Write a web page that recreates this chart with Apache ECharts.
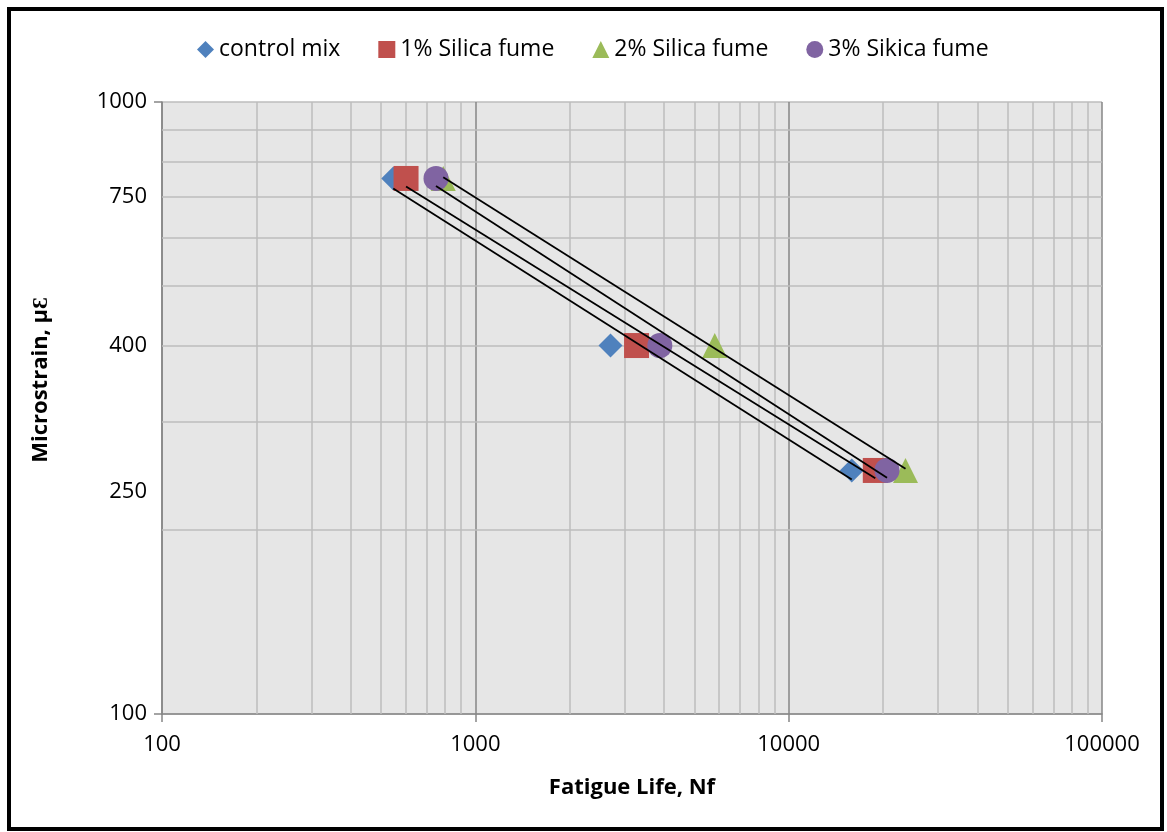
<!DOCTYPE html>
<html>
<head>
<meta charset="utf-8">
<script src="https://cdn.jsdelivr.net/npm/echarts@6/dist/echarts.min.js"></script>
<style>
html,body{margin:0;padding:0;background:#fff;}
#chart{width:1167px;height:832px;}
</style>
</head>
<body>
<div id="chart"></div>
<script>
// ---- data ----
const seriesNames = ['control mix', '1% Silica fume', '2% Silica fume', '3% Sikica fume'];
const strainLevels = [750, 400, 250];          // microstrain
const lifeControl = [547, 2700, 15900];        // fatigue life Nf
const lifeSF1 = [601, 3270, 18900];
const lifeSF2 = [790, 5810, 23600];
const lifeSF3 = [749, 3880, 20600];
const yExtraLabels = ['250', '400', '750'];    // extra y-axis tick texts
const yExtraLabelAt = [231, 400, 700];         // where they appear on the axis

const colors = ['#4F81BD', '#C0504D', '#9BBB59', '#8064A2'];
const symbols = ['diamond', 'rect', 'triangle', 'circle'];
const lives = [lifeControl, lifeSF1, lifeSF2, lifeSF3];

// power trendline (least squares in log-log space), Excel style
function trend(xs, ys) {
  const lx = xs.map(Math.log10), ly = ys.map(Math.log10);
  const n = lx.length;
  const mx = lx.reduce((a, b) => a + b, 0) / n, my = ly.reduce((a, b) => a + b, 0) / n;
  let sxy = 0, sxx = 0;
  for (let i = 0; i < n; i++) { sxy += (lx[i] - mx) * (ly[i] - my); sxx += (lx[i] - mx) ** 2; }
  const b = sxy / sxx, a = my - b * mx;
  const x0 = Math.min(...xs), x1 = Math.max(...xs);
  return [[x0, Math.pow(10, a + b * Math.log10(x0))], [x1, Math.pow(10, a + b * Math.log10(x1))]];
}

// minor gridlines (2..9 of each decade)
const minorX = [], minorY = [];
for (let d = 100; d < 100000; d *= 10) for (let k = 2; k <= 9; k++) minorX.push(k * d);
for (let k = 2; k <= 9; k++) minorY.push(k * 100);

const FONT = 'Open Sans';
const gridLineData = [];
minorX.forEach(v => gridLineData.push({ xAxis: v }));
minorY.forEach(v => gridLineData.push({ yAxis: v }));
yExtraLabels.forEach((t, i) => gridLineData.push({
  yAxis: yExtraLabelAt[i],
  lineStyle: { color: 'rgba(0,0,0,0)', width: 0.1 },
  label: { show: true, formatter: t, position: 'start', distance: 15, fontSize: 22, color: '#000', fontFamily: FONT }
}));

const series = [{
  type: 'line', data: [[100, 100]], showSymbol: false, symbol: 'none', silent: true, z: 1,
  lineStyle: { opacity: 0 }, legendHoverLink: false,
  markLine: {
    silent: true, animation: false, symbol: ['none', 'none'], z: 1,
    label: { show: false },
    lineStyle: { color: '#bdbdbd', width: 1.5, type: 'solid' },
    data: gridLineData
  }
}];

lives.forEach((lv, i) => {
  series.push({
    name: seriesNames[i], type: 'scatter', z: 3 + i,
    symbol: symbols[i], symbolSize: symbols[i] === 'diamond' ? 24 : 25,
    itemStyle: { color: colors[i], opacity: 1 },
    data: lv.map((x, j) => [x, strainLevels[j]])
  });
});
lives.forEach((lv, i) => {
  series.push({
    type: 'line', z: 10, silent: true, symbol: 'none', showSymbol: false,
    lineStyle: { color: '#000', width: 1.8 },
    data: trend(lv, strainLevels)
  });
});

const chart = echarts.init(document.getElementById('chart'), null, { renderer: 'canvas' });
chart.setOption({
  animation: false,
  textStyle: { fontFamily: FONT },
  color: colors,
  graphic: [{
    type: 'rect', z: 100, silent: true,
    shape: { x: 9, y: 9, width: 1153, height: 820 },
    style: { fill: 'none', stroke: '#000', lineWidth: 4 }
  }],
  legend: {
    top: 33, left: 192, itemGap: 38, itemWidth: 17, itemHeight: 17,
    data: seriesNames.map((n, i) => ({ name: n, icon: symbols[i] })),
    textStyle: { fontSize: 23, color: '#000', fontFamily: FONT }
  },
  grid: { left: 162, right: 65, top: 102, bottom: 118, show: true, backgroundColor: '#e6e6e6', borderWidth: 0 },
  xAxis: {
    type: 'log', logBase: 10, min: 100, max: 100000,
    name: 'Fatigue Life, Nf', nameLocation: 'middle', nameGap: 63,
    nameTextStyle: { fontWeight: 'bold', fontSize: 22, color: '#000', fontFamily: FONT },
    axisLine: { show: true, onZero: false, lineStyle: { color: '#868686', width: 1.5 } },
    axisTick: { show: true, length: 8, lineStyle: { color: '#868686', width: 1.5 } },
    axisLabel: { fontSize: 22, color: '#000', margin: 20, formatter: v => String(Math.round(v)) },
    splitLine: { show: true, lineStyle: { color: '#868686', width: 1.5 } }
  },
  yAxis: {
    type: 'log', logBase: 10, min: 100, max: 1000,
    name: 'Microstrain, µƐ', nameLocation: 'middle', nameGap: 110, nameRotate: 90,
    nameTextStyle: { fontWeight: 'bold', fontSize: 22, color: '#000', fontFamily: FONT, padding: [0, 0, 0, 56] },
    axisLine: { show: true, onZero: false, lineStyle: { color: '#868686', width: 1.5 } },
    axisTick: { show: true, length: 8, lineStyle: { color: '#868686', width: 1.5 } },
    axisLabel: { fontSize: 22, color: '#000', margin: 15, formatter: v => String(Math.round(v)) },
    splitLine: { show: true, lineStyle: { color: '#bdbdbd', width: 1.5 } }
  },
  series: series
});
</script>
</body>
</html>
